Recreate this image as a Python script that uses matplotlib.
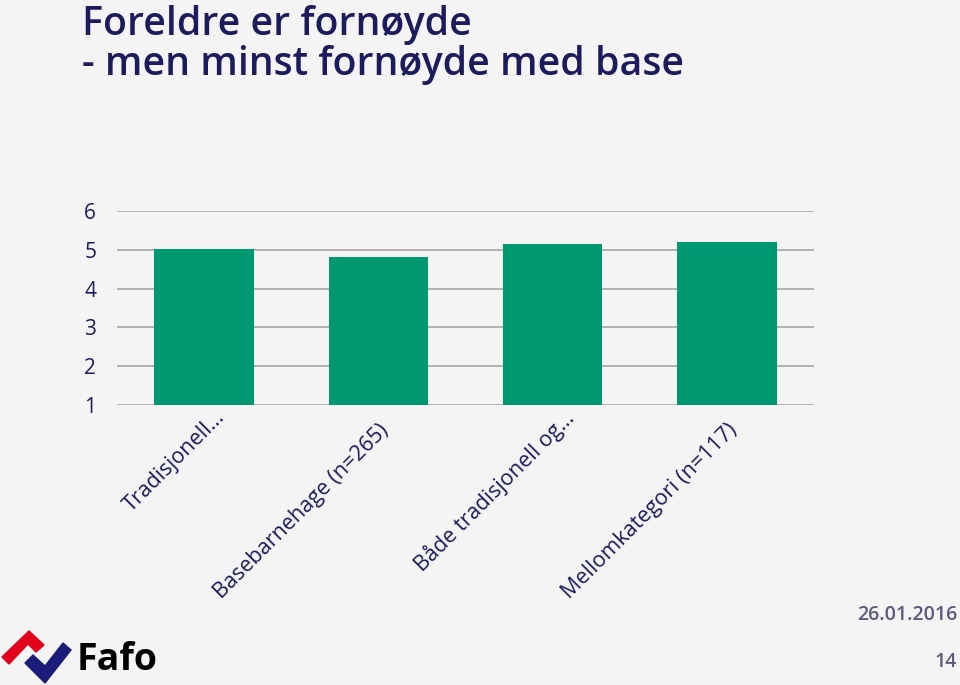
import matplotlib.pyplot as plt
import matplotlib.transforms as mtransforms
from matplotlib.patches import Polygon

categories = ["Tradisjonell…", "Basebarnehage (n=265)", "Både tradisjonell og…", "Mellomkategori (n=117)"]
values = [5.02, 4.81, 5.16, 5.21]
yticks = [1, 2, 3, 4, 5, 6]

plt.rcParams['font.family'] = ['Open Sans', 'DejaVu Sans']
navy = "#1b1b5e"
bg = "#f4f4f4"
W, H = 960, 685

fig = plt.figure(figsize=(9.6, 6.85), dpi=100, facecolor=bg)
ax = fig.add_axes([0.1219, 0.4088, 0.7261, 0.2832], facecolor=bg)

x = range(len(categories))
ax.bar(x, values, width=0.57, bottom=0, color="#009870", zorder=2)
ax.set_ylim(1, 6)
ax.set_xlim(-0.5, len(categories) - 0.5)
ax.set_yticks(yticks)
ax.set_yticklabels([str(t) for t in yticks], fontsize=15, color=navy)
ax.yaxis.grid(True, color="#a6a6a6", linewidth=1.2, zorder=0)
ax.tick_params(axis='y', length=0, pad=15)
ax.tick_params(axis='x', length=0, pad=13)
for s in ax.spines.values():
    s.set_visible(False)

ax.set_xticks(list(x))
ax.set_xticklabels(categories, rotation=45, ha='right', va='top',
                   rotation_mode='anchor', fontsize=15.5, color=navy)
# truncated labels sit a little further out in the original
for lab in ax.get_xticklabels():
    if lab.get_text().endswith("…"):
        off = mtransforms.ScaledTranslation(0.1, 0.16, fig.dpi_scale_trans)
    else:
        off = mtransforms.ScaledTranslation(0.0, 0.03, fig.dpi_scale_trans)
    lab.set_transform(lab.get_transform() + off)

# title
fig.text(82 / W, 1 - 35 / H, "Foreldre er fornøyde", fontsize=28.3, fontweight='semibold',
         color=navy, va='baseline', ha='left')
fig.text(82 / W, 1 - 75 / H, "- men minst fornøyde med base", fontsize=28.3,
         fontweight='semibold', color=navy, va='baseline', ha='left')

fig.text(957 / W, 1 - 615 / H, "26.01.2016", fontsize=14, color="#5a5a80",
         ha='right', va='center', fontweight='semibold')
fig.text(957 / W, 1 - 662 / H, "14", fontsize=14, color="#5a5a80",
         ha='right', va='center', fontweight='semibold')

# Fafo logo (approximate)
def P(pts):
    return [(px / W, 1 - py / H) for px, py in pts]
fig.patches.append(Polygon(P([(2, 657), (9, 664), (28, 644), (36, 652), (44, 645), (29, 631)]),
                           closed=True, color="#e3001b", transform=fig.transFigure))
fig.patches.append(Polygon(P([(25, 663), (45, 683), (71, 650), (63, 643), (45, 666), (33, 655)]),
                           closed=True, color="#1b1b7a", transform=fig.transFigure))
fig.text(77 / W, 1 - 670 / H, "Fafo", fontsize=27, fontweight='bold', color="black",
         ha='left', va='baseline')

fig.savefig("out.png", dpi=100, facecolor=bg)
